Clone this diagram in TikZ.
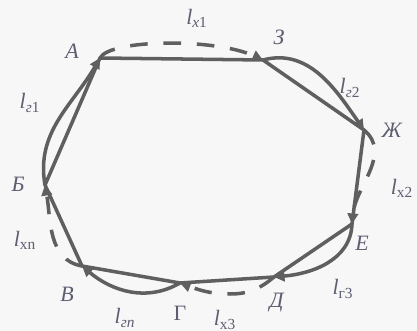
\documentclass[tikz,border=0pt]{standalone}
\usepackage{fontspec}
\setmainfont{Liberation Serif}
\usetikzlibrary{arrows.meta}
\definecolor{linegray}{HTML}{5F5F5F}
\definecolor{textgray}{HTML}{5E5E72}
\newcommand*{\lsub}[2]{\textit{l}\textsubscript{#1#2}}

\begin{document}
\begin{tikzpicture}
[
	x=0.02cm,y=0.02cm,
	edge/.style={linegray,line width=2pt},
	walk/.style={linegray,line width=2pt,-{Triangle[length=6pt,width=6pt]}},
	idle/.style={walk,dash pattern=on 10pt off 9pt},
	lab/.style={textgray,inner sep=1pt,font=\fontsize{12.5}{14}\selectfont}
]

	\fill[gray!6] (0,0) rectangle (417,331);
	\useasboundingbox (0,0) rectangle (417,331);

	% vertices
	\coordinate (A) at (100,273);
	\coordinate (Z) at (263,271);
	\coordinate (Zh) at (364,201);
	\coordinate (E) at (352,107);
	\coordinate (D) at (274,54);
	\coordinate (G) at (180,48);
	\coordinate (V) at (82,65);
	\coordinate (B) at (45,146);

	% route
	\draw[edge,line join=round] (A) -- (Z) -- (Zh) -- (E) -- (D) -- (G) -- (V) -- (B) -- cycle;

	% working strokes
	\draw[walk] (B) to[out=100,in=240] (A);
	\draw[walk] (Z) to[out=15,in=125] (Zh);
	\draw[walk] (E) to[out=-92,in=5] (D);
	\draw[walk] (G) to[out=-150,in=-40] (V);

	% idle strokes
	\draw[idle] (A) .. controls (110,292) and (215,293) .. (Z);
	\draw[idle] (Zh) to[out=-40,in=85] (E);
	\draw[idle] (D) to[out=-140,in=0] (230,37) to[out=180,in=-20] (G);
	\draw[idle] (V) to[out=170,in=-80] (B);

	% vertex names
	\node[lab] (nA) at (72,280) {\textit{А}};
	\node[lab] (nZ) at (279,294) {\textit{З}};
	\node[lab] (nZh) at (392,201) {\textit{Ж}};
	\node[lab] (nE) at (362,88) {\textit{Е}};
	\node[lab] (nD) at (277,28) {\textit{Д}};
	\node[lab] (nG) at (180,18) {Г};
	\node[lab] (nV) at (67,37) {\textit{В}};
	\node[lab] (nB) at (18,147) {\textit{Б}};

	% stroke names
	\node[lab] (lg1) at (30,228) {\lsub{\textit{г}}{1}};
	\node[lab] (lx1) at (197,313) {\lsub{\textit{х}}{1}};
	\node[lab] (lg2) at (350,243) {\lsub{\textit{г}}{2}};
	\node[lab] (lx2) at (402,143) {\lsub{х}{2}};
	\node[lab] (lg3) at (343,42) {\lsub{г}{3}};
	\node[lab] (lx3) at (225,11) {\lsub{х}{3}};
	\node[lab] (lgn) at (125,13) {\lsub{\textit{г}}{\textit{n}}};
	\node[lab] (lxn) at (25,91) {\lsub{х}{n}};

\end{tikzpicture}
\end{document}
